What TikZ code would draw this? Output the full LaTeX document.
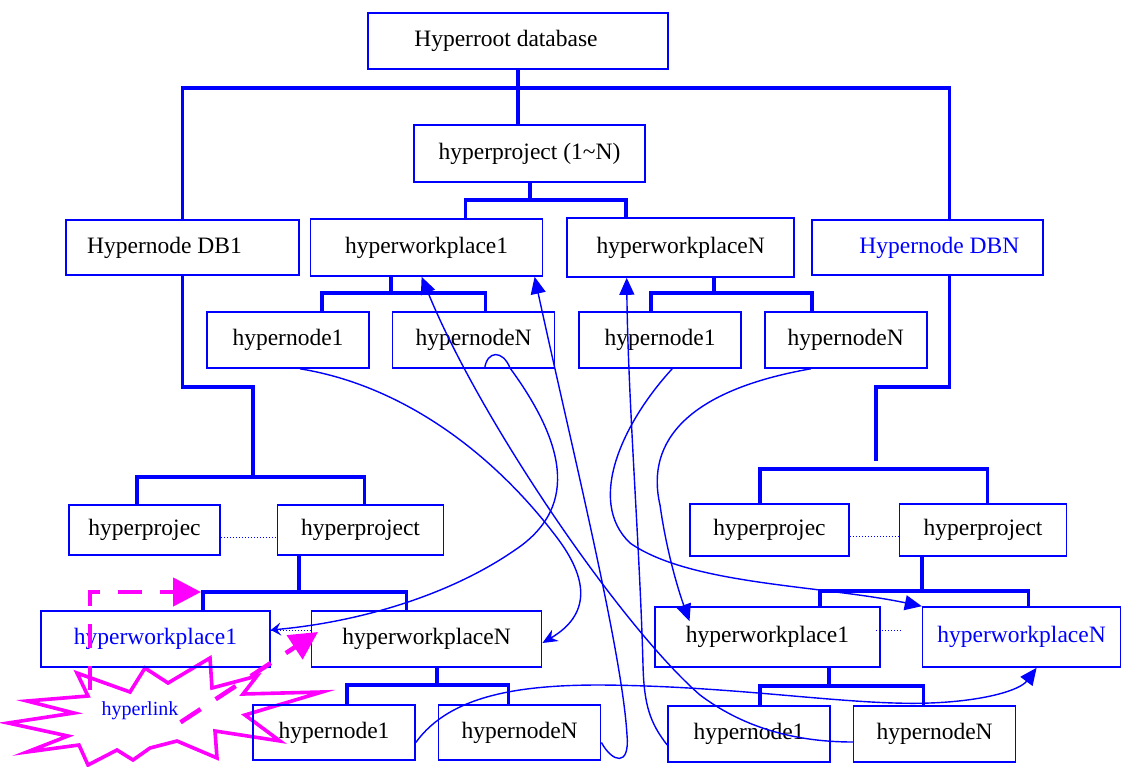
\documentclass[tikz,border=0pt]{standalone}
\usepackage{fontspec}
\setmainfont{Liberation Serif}
\usetikzlibrary{arrows.meta,positioning}
\definecolor{linkpink}{RGB}{255,0,255}
\tikzset{
  box/.style={draw=blue,line width=1.6pt,inner sep=0pt},
  nudge/.style={execute at begin node={\hspace*{#1}}},
  bus/.style={draw=blue,line width=3.6pt},
  lnk/.style={draw=blue,line width=1.4pt,-{Triangle[length=17pt,width=15pt]}},
  lnks/.style={draw=blue,line width=1.4pt,-{Stealth[length=15pt,width=13pt]}},
  dots/.style={draw=blue,line width=1pt,dash pattern=on 1.5pt off 1.5pt},
  burst/.style={draw=linkpink,fill=white,line width=3.6pt},
  hyper/.style={draw=linkpink,line width=4.5pt,dash pattern=on 24pt off 18pt,
                -{Triangle[length=28pt,width=28pt]}},
}

\begin{document}
\begin{tikzpicture}[x=1pt,y=-1pt,font=\fontsize{23.5}{28}\selectfont]
  \useasboundingbox (0,0) rectangle (1125,767);
  \draw[burst] (145,668) -- (168,683) -- (210,658) -- (212,688) -- (257,676) -- (243,694)
    -- (322,692) -- (245,715) -- (280,741) -- (215,731) -- (217,758) -- (177,741) -- (150,748)
    -- (133,760) -- (117,750) -- (88,765) -- (79,745) -- (27,752) -- (68,736) -- (8,723)
    -- (74,713) -- (27,701) -- (88,696) -- (77,673) -- (130,692) -- cycle;
  \node[text=blue,inner sep=2pt,font=\fontsize{20}{24}\selectfont] (hl) at (140,711) {hyperlink};

  \node[box,nudge=-24pt,minimum width=300pt,minimum height=56pt] (root) at (518,41) {Hyperroot database};
  \node[box,minimum width=231pt,minimum height=57pt] (proj) at (529.5,153.5) {hyperproject (1\textasciitilde N)};

  \node[box,nudge=-36pt,minimum width=233pt,minimum height=55pt] (db1) at (182.5,247.5) {Hypernode DB1};
  \node[box,minimum width=232pt,minimum height=57pt,right=10pt of db1] (hw1) {hyperworkplace1};
  \node[box,minimum width=227pt,minimum height=59pt,right=23pt of hw1] (hwN) {hyperworkplaceN};
  \node[box,nudge=24pt,text=blue,minimum width=231pt,minimum height=55pt,right=16pt of hwN] (dbn) {Hypernode DBN};

  \node[box,minimum width=162pt,minimum height=56pt] (n1a) at (288,340) {hypernode1};
  \node[box,minimum width=162pt,minimum height=56pt,right=22pt of n1a] (nNa) {hypernodeN};
  \node[box,minimum width=162pt,minimum height=56pt,right=23pt of nNa] (n1b) {hypernode1};
  \node[box,minimum width=162pt,minimum height=56pt,right=22pt of n1b] (nNb) {hypernodeN};

  \node[box,minimum width=151pt,minimum height=50pt] (ppA) at (144.5,530) {hyperprojec};
  \node[box,minimum width=166pt,minimum height=50pt,right=56pt of ppA] (ppB) {hyperproject};
  \node[box,minimum width=159pt,minimum height=52pt] (ppC) at (769.5,530) {hyperprojec};
  \node[box,minimum width=167pt,minimum height=52pt,right=49pt of ppC] (ppD) {hyperproject};

  \node[box,text=blue,minimum width=229pt,minimum height=56pt] (wL1) at (155.5,639) {hyperworkplace1};
  \node[box,minimum width=230pt,minimum height=56pt,right=40pt of wL1] (wLN) {hyperworkplaceN};
  \node[box,minimum width=225pt,minimum height=60pt] (wR1) at (767.5,637) {hyperworkplace1};
  \node[box,text=blue,minimum width=198pt,minimum height=60pt,right=41pt of wR1] (wRN) {hyperworkplaceN};

  \node[box,minimum width=162pt,minimum height=55pt] (nL1) at (334,732.5) {hypernode1};
  \node[box,minimum width=162pt,minimum height=55pt,right=22pt of nL1] (nLN) {hypernodeN};
  \node[box,minimum width=162pt,minimum height=56pt] (nR1) at (749,734) {hypernode1};
  \node[box,minimum width=162pt,minimum height=56pt,right=22pt of nR1] (nRN) {hypernodeN};

  \coordinate (t0) at (518,88);
  \coordinate (t1) at (530,200);
  \coordinate (t2) at (391,293);
  \coordinate (t3) at (714,293);
  \coordinate (t4) at (253,387);
  \coordinate (t5) at (253,477);
  \coordinate (t6) at (299,592);
  \coordinate (t7) at (437,685);
  \coordinate (t8) at (876,387);
  \coordinate (t9) at (876,461);
  \coordinate (t10) at (876,469);
  \coordinate (t11) at (922,591);
  \coordinate (t12) at (829,686);

  \draw[bus] (root.south) -- (root.south |- proj.north);
  \draw[bus] (db1.north) |- (t0) -| ([xshift=22pt]dbn.north);
  \draw[bus] (proj.south -| t1) -- (t1);
  \draw[bus] ([xshift=39pt]hw1.north) |- (t1) -| ([xshift=-55pt]hwN.north);
  \draw[bus] (hw1.south -| t2) -- (t2);
  \draw[bus] ([xshift=34pt]n1a.north) |- (t2) -| ([xshift=12pt]nNa.north);
  \draw[bus] (hwN.south -| t3) -- (t3);
  \draw[bus] ([xshift=-9pt]n1b.north) |- (t3) -| ([xshift=-34pt]nNb.north);
  \draw[bus] (db1.south) |- (t4) -- (t5);
  \draw[bus] ([xshift=-7.5pt]ppA.north) |- (t5) -| ([xshift=4pt]ppB.north);
  \draw[bus] (ppB.south -| t6) -- (t6);
  \draw[bus] ([xshift=47.5pt]wL1.north) |- (t6) -| ([xshift=-20pt]wLN.north);
  \draw[bus] (wLN.south -| t7) -- (t7);
  \draw[bus] ([xshift=13pt]nL1.north) |- (t7) -| ([xshift=-11pt]nLN.north);
  \draw[bus] ([xshift=22pt]dbn.south) |- (t8) -- (t9);
  \draw[bus] ([xshift=-9.5pt]ppC.north) |- (t10) -| ([xshift=4.5pt]ppD.north);
  \draw[bus] (ppD.south -| t11) -- (t11);
  \draw[bus] ([xshift=52.5pt]wR1.north) |- (t11) -| ([xshift=7pt]wRN.north);
  \draw[bus] (wR1.south -| t12) -- (t12);
  \draw[bus] ([xshift=11pt]nR1.north) |- (t12) -| ([xshift=-11pt]nRN.north);

  \draw[dots] ([yshift=-7pt]ppA.east) -- ([yshift=-7pt]ppB.west);
  \draw[dots] ([yshift=-6pt]ppC.east) -- ([yshift=-6pt]ppD.west);
  \draw[dots] ([yshift=9pt]wL1.east) -- ([yshift=9pt]wLN.west);
  \draw[dots] ([xshift=-5pt,yshift=7pt]wR1.east) -- ([xshift=-19pt,yshift=7pt]wRN.west);

  \draw[lnks] ([xshift=12pt]n1a.south) .. controls (400,385) and (490,450) .. (555,535)
    .. controls (590,580) and (590,615) .. ([yshift=-4pt]wLN.east);
  \draw[lnks,-{Stealth[length=10pt,width=13pt,inset=4pt]}] ([xshift=11pt]nNa.south)
    .. controls (487,350) and (503,350) .. (510,368) .. controls (570,450) and (575,510) .. (515,550)
    .. controls (450,595) and (360,622) .. ([yshift=9pt]wL1.east);
  \draw[lnk] ([yshift=-8pt]nRN.west) .. controls (790,742) and (740,725) .. (700,695)
    .. controls (620,625) and (480,420) .. ([xshift=-5pt]hw1.south);
  \draw[lnk] ([yshift=-10pt]nLN.east) .. controls (612,762) and (630,768) .. (627,735)
    .. controls (622,650) and (570,440) .. ([xshift=108pt]hw1.south);
  \draw[lnk] ([yshift=-11pt]nR1.west) .. controls (650,723) and (644,705) .. (643,665)
    .. controls (640,550) and (628,400) .. ([xshift=-54pt]hwN.south);
  \draw[lnk] ([xshift=12pt]n1b.south) .. controls (625,420) and (585,500) .. (630,543)
    .. controls (690,585) and (820,585) .. (wRN.north west);
  \draw[lnk] ([xshift=-35pt]nNb.south) .. controls (690,390) and (645,440) .. (660,505)
    .. controls (667,555) and (680,595) .. ([xshift=-78pt,yshift=-15pt]wR1.north);
  \draw[lnk] ([yshift=-10pt]nL1.east) .. controls (450,695) and (520,685) .. (600,685)
    .. controls (740,686) and (850,706) .. (930,703) .. controls (985,701) and (1020,690)
    .. ([xshift=15pt]wRN.south);

  \coordinate (h1) at (90,690);
  \coordinate (h2) at (201,592);
  \coordinate (h3) at (318,632);
  \draw[hyper] (h1) |- (h2);
  \draw[hyper] (hl.south east) -- (h3);
\end{tikzpicture}
\end{document}
